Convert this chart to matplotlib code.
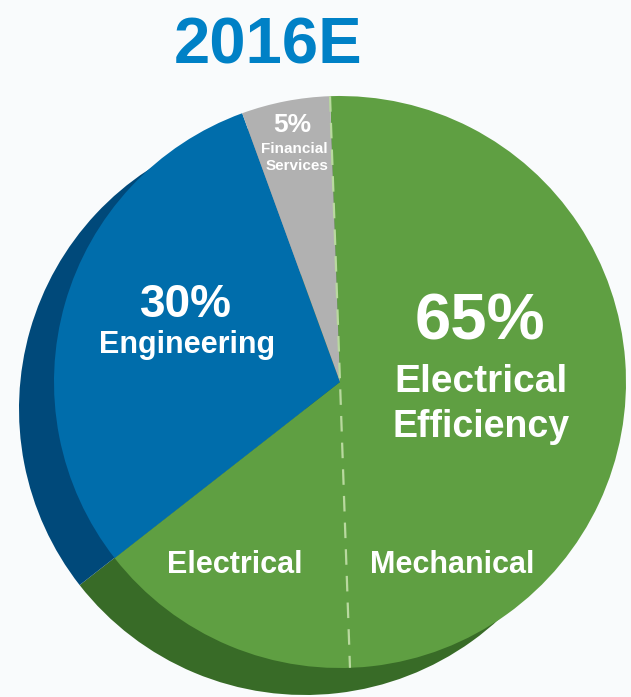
import numpy as np
import matplotlib
matplotlib.use("Agg")
import matplotlib.pyplot as plt

# data
segments = ["Electrical Efficiency", "Engineering", "Financial Services"]
shares = [65, 30, 5]
face_colors = ["#5f9f42", "#006dab", "#b1b1b1"]
shadow_colors = ["#386b27", "#00497a", "#8a8a8a"]
title = "2016E"

plt.rcParams['font.family'] = ['Liberation Sans', 'DejaVu Sans']

fig = plt.figure(figsize=(6.31, 6.97), dpi=100)
fig.patch.set_facecolor('#f9fbfc')
ax = fig.add_axes([0, 0, 1, 1])
ax.set_facecolor('#f9fbfc')

cx, cy, r = 340, 315, 286
start = 92
# shadow pie, shifted down-left
ax.pie(shares, colors=shadow_colors, startangle=start, counterclock=False,
       center=(cx - 35, cy - 27), radius=r, wedgeprops=dict(linewidth=0))
ax.pie(shares, colors=face_colors, startangle=start, counterclock=False,
       center=(cx, cy), radius=r, wedgeprops=dict(linewidth=0))

# dashed split between Electrical / Mechanical
a = np.deg2rad(start)
ax.plot([cx + r*np.cos(a), cx - r*np.cos(a)], [cy + r*np.sin(a), cy - r*np.sin(a)],
        color='#b9d99f', lw=1.6, dashes=(7, 5), zorder=3)

ax.set_xlim(0, 631)
ax.set_ylim(0, 697)
ax.set_aspect('equal')
ax.axis('off')

wt = dict(color='white', fontweight='bold', ha='center', va='baseline', zorder=5)
ax.text(268, 634, title, color='#0081c6', fontweight='bold', fontsize=47, ha='center', va='baseline')

ax.text(480, 357, "%d%%" % shares[0], fontsize=47, **wt)
ax.text(481, 305, "Electrical", fontsize=28, **wt)
ax.text(481, 260, "Efficiency", fontsize=27, **wt)

ax.text(186, 380, "%d%%" % shares[1], fontsize=33, **wt)
ax.text(187, 344, "Engineering", fontsize=22, **wt)

ax.text(292, 565, "%d%%" % shares[2], fontsize=19, **wt)
ax.text(294, 544, "Financial", fontsize=11, **wt)
ax.text(297, 527, "Services", fontsize=11, **wt)

ax.text(235, 124, "Electrical", fontsize=22, **wt)
ax.text(452, 124, "Mechanical", fontsize=22, **wt)

fig.savefig("out.png", dpi=100, facecolor=fig.get_facecolor())
